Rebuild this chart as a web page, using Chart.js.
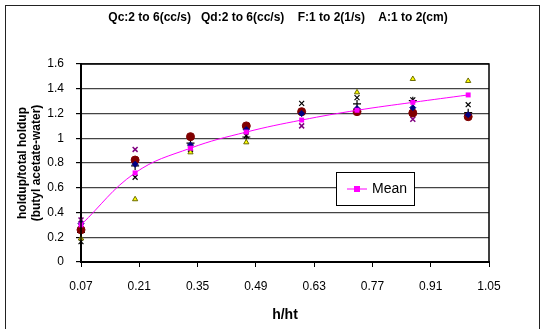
<!DOCTYPE html>
<html lang="en">
<head>
<meta charset="UTF-8">
<title>Holdup profile</title>
<script src="https://cdn.jsdelivr.net/npm/chart.js"></script>
<style>
  body { margin: 0; background: #fff; }
  #wrap { width: 545px; height: 329px; position: relative; }
</style>
</head>
<body>
<div id="wrap"><canvas id="holdupChart"></canvas></div>
<script>
// h/ht positions of the sampling points
const heights = [0.07, 0.2, 0.333, 0.467, 0.6, 0.733, 0.867, 1.0];

// holdup/total holdup for each run
const runDiamond = [0.31, 0.79, 0.945, 1.07, 1.20, 1.24, 1.247, 1.19];
const runCircle = [0.26, 0.824, 1.013, 1.10, 1.215, 1.215, 1.204, 1.174];
const runTriangle = [0.19, 0.507, 0.886, 0.967, 1.20, 1.371, 1.479, 1.463];
const runCross = [0.165, 0.685, 0.91, 1.02, 1.282, 1.328, 1.31, 1.271];
const runStar = [0.34, 0.91, 0.92, 1.06, 1.10, 1.22, 1.153, 1.18];
const runPlus = [0.24, 0.776, 0.96, 1.01, 1.21, 1.277, 1.304, 1.207];
const meanValues = [0.30, 0.72, 0.92, 1.05, 1.147, 1.226, 1.29, 1.35];

const xTickLabels = [0.07, 0.21, 0.35, 0.49, 0.63, 0.77, 0.91, 1.05];
const yTickLabels = [0, 0.2, 0.4, 0.6, 0.8, 1, 1.2, 1.4, 1.6];

const titleText = 'Qc:2 to 6(cc/s)   Qd:2 to 6(cc/s)    F:1 to 2(1/s)    A:1 to 2(cm)';
const FONT = 'Arial, "Liberation Sans", sans-serif';

function pts(vals) {
  return vals.map((v, i) => ({ x: heights[i], y: v }));
}

// white background, plot border, outer frame, title and the boxed legend
const decor = {
  id: 'decor',
  beforeDraw(chart) {
    const ctx = chart.ctx;
    ctx.save();
    ctx.fillStyle = '#fff';
    ctx.fillRect(0, 0, chart.width, chart.height);
    ctx.restore();
  },
  afterDraw(chart) {
    const { ctx, chartArea: a } = chart;
    ctx.save();
    ctx.strokeStyle = '#000';
    ctx.lineWidth = 1.5;
    ctx.strokeRect(a.left, a.top, a.right - a.left, a.bottom - a.top);

    ctx.strokeStyle = '#222';
    ctx.lineWidth = 1;
    ctx.strokeRect(5.5, 5.5, 534, 340);

    ctx.fillStyle = '#000';
    ctx.font = 'bold 12px ' + FONT;
    ctx.textAlign = 'center';
    ctx.textBaseline = 'middle';
    ctx.fillText(titleText, 278, 18);

    // legend
    ctx.fillStyle = '#fff';
    ctx.fillRect(336, 172, 78, 33);
    ctx.strokeStyle = '#000';
    ctx.strokeRect(336.5, 172.5, 78, 33);
    ctx.strokeStyle = '#ff00ff';
    ctx.beginPath();
    ctx.moveTo(347, 189);
    ctx.lineTo(367, 189);
    ctx.stroke();
    ctx.fillStyle = '#ff00ff';
    ctx.fillRect(354, 186, 6, 6);
    ctx.fillStyle = '#000';
    ctx.font = '14px ' + FONT;
    ctx.textAlign = 'left';
    ctx.fillText('Mean', 372, 189);
    ctx.restore();
  }
};

const ctx = document.getElementById('holdupChart').getContext('2d');
new Chart(ctx, {
  type: 'scatter',
  data: {
    datasets: [
      {
        label: 'Mean', data: pts(meanValues), showLine: true, tension: 0.4,
        borderColor: '#ff00ff', borderWidth: 1, backgroundColor: '#ff00ff',
        pointStyle: 'rect', pointRadius: 3.5, pointBorderWidth: 0
      },
      { label: 'run 1', data: pts(runDiamond), pointStyle: 'rectRot', pointRadius: 3,
        backgroundColor: '#000080', borderColor: '#000080', borderWidth: 1 },
      { label: 'run 2', data: pts(runCircle), pointStyle: 'circle', pointRadius: 4,
        backgroundColor: '#800000', borderColor: '#800000', borderWidth: 1 },
      { label: 'run 3', data: pts(runTriangle), pointStyle: 'triangle', pointRadius: 3,
        backgroundColor: '#ffff00', borderColor: '#6b6b00', borderWidth: 1 },
      { label: 'run 4', data: pts(runCross), pointStyle: 'crossRot', pointRadius: 3.5,
        borderColor: '#000', borderWidth: 1.2 },
      { label: 'run 5', data: pts(runStar), pointStyle: 'crossRot', pointRadius: 3.5,
        borderColor: '#800080', borderWidth: 1.5 },
      { label: 'run 6', data: pts(runPlus), pointStyle: 'cross', pointRadius: 4,
        borderColor: '#000', borderWidth: 1.2 }
    ]
  },
  options: {
    responsive: true,
    maintainAspectRatio: false,
    animation: false,
    clip: false,
    layout: { padding: { left: 0, right: 56, top: 64, bottom: 0 } },
    plugins: {
      legend: { display: false },
      tooltip: { enabled: false }
    },
    scales: {
      x: {
        type: 'linear',
        min: 0.07,
        max: 1.05,
        afterFit(scale) { scale.height = 67; },
        afterBuildTicks(scale) { scale.ticks = xTickLabels.map(v => ({ value: v })); },
        ticks: {
          color: '#000', padding: 12, font: { family: FONT, size: 12 },
          callback: v => v.toFixed(2)
        },
        grid: { drawOnChartArea: false, tickLength: 5, tickColor: '#000' },
        border: { color: '#000', width: 2 },
        title: {
          display: true, text: 'h/ht', color: '#000',
          font: { family: FONT, size: 14, weight: 'bold' },
          padding: { top: 0, bottom: 5 }
        }
      },
      y: {
        min: 0,
        max: 1.6,
        afterFit(scale) { scale.width = 81; },
        afterBuildTicks(scale) { scale.ticks = yTickLabels.map(v => ({ value: v })); },
        ticks: {
          color: '#000', padding: 12, font: { family: FONT, size: 12 },
          callback: v => String(+v.toFixed(1))
        },
        grid: { color: '#444', lineWidth: 1.2, tickLength: 5, tickColor: '#000' },
        border: { color: '#000', width: 2 },
        title: {
          display: true, text: ['holdup/total holdup', '(butyl acetate-water)'], color: '#000',
          font: { family: FONT, size: 12, weight: 'bold' },
          padding: { top: 15, bottom: 0 }
        }
      }
    }
  },
  plugins: [decor]
});
</script>
</body>
</html>
